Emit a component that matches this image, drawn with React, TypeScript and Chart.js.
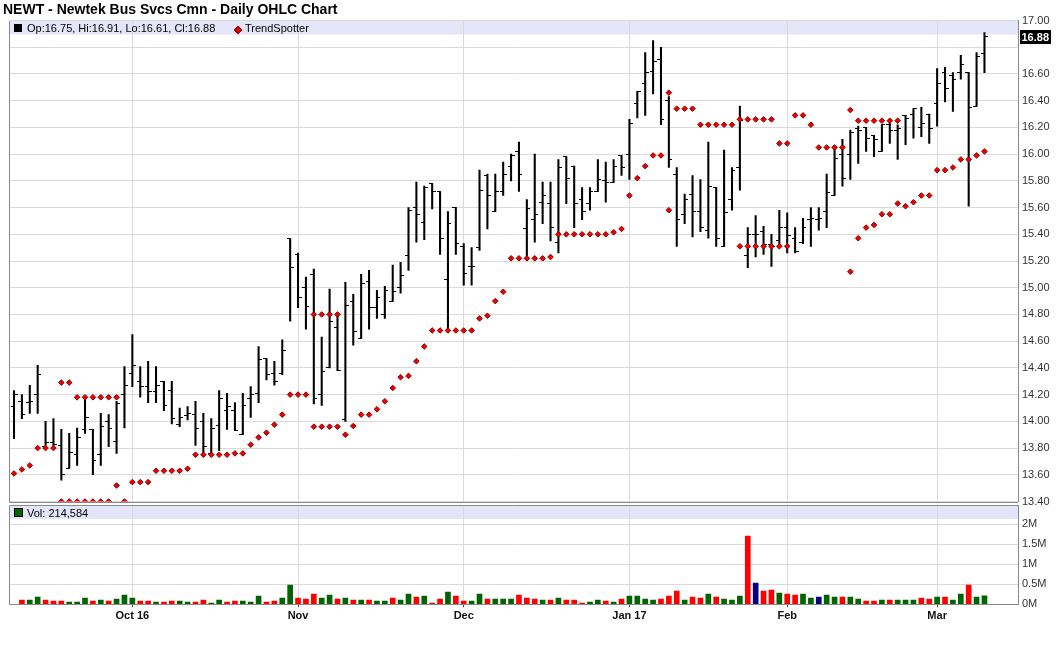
import { useEffect, useRef } from "react";
import { Chart, registerables } from "chart.js";

Chart.register(...registerables);

const FONT = '"Liberation Sans", Arial, Helvetica, sans-serif';

// x positions: trading-day index; month gridlines at first trading day of each month
const monthTickIndex = [15, 36, 57, 78, 98, 117];
const monthTickLabels = ["Oct 16", "Nov", "Dec", "Jan 17", "Feb", "Mar"];

const opens = [
  14.11, 14.15, 14.14, 14.20, 13.81, 13.84, 13.82, 13.65, 13.75, 13.94,
  13.94, 13.75, 14.00, 13.85, 14.20, 14.36, 14.30, 14.26, 14.22, 14.30,
  14.23, 13.98, 14.04, 14.05, 14.00, 13.76, 13.97, 14.08, 14.08, 13.90,
  14.17, 14.21, 14.47, 14.36, 14.36, 15.37, 15.25, 15.00, 15.10, 14.20,
  14.40, 14.70, 14.01, 14.90, 14.62, 15.05, 14.85, 14.80, 14.90, 15.00,
  15.24, 15.60, 15.49, 15.78, 15.72, 15.06, 15.60, 15.31, 15.16, 15.30,
  15.84, 15.57, 15.72, 15.91, 16.02, 15.44, 15.51, 15.64, 15.63, 15.34,
  15.98, 15.91, 15.66, 15.63, 15.72, 15.80, 15.79, 15.99, 16.00, 16.38,
  16.53, 16.62, 16.71, 16.40, 15.85, 15.55, 15.70, 15.57, 15.43, 15.75,
  15.31, 15.66, 15.90, 15.24, 15.40, 15.42, 15.32, 15.35, 15.45, 15.37,
  15.34, 15.51, 15.51, 15.57, 15.69, 16.00, 16.00, 16.19, 16.20, 16.14,
  16.02, 16.22, 16.18, 16.29, 16.30, 16.20, 16.30, 16.38, 16.61, 16.59,
  16.61, 16.61, 16.36, 16.75,
];

const highs = [
  14.23, 14.20, 14.27, 14.42, 14.00, 14.02, 13.94, 13.91, 13.95, 14.18,
  13.94, 14.06, 14.05, 14.15, 14.41, 14.65, 14.41, 14.45, 14.41, 14.30,
  14.30, 14.10, 14.11, 14.15, 14.06, 14.02, 14.23, 14.21, 14.14, 14.21,
  14.26, 14.56, 14.47, 14.45, 14.61, 15.37, 15.26, 15.08, 15.14, 14.63,
  14.99, 14.80, 15.04, 14.95, 15.10, 15.13, 14.98, 15.01, 15.17, 15.19,
  15.60, 15.79, 15.76, 15.78, 15.72, 15.57, 15.60, 15.33, 15.30, 15.88,
  15.85, 15.85, 15.94, 16.00, 16.09, 15.66, 16.00, 15.79, 15.79, 15.96,
  15.98, 15.91, 15.75, 15.75, 15.96, 15.94, 15.96, 15.99, 16.26, 16.47,
  16.76, 16.85, 16.80, 16.43, 15.90, 15.70, 15.84, 15.81, 16.09, 15.75,
  16.03, 15.90, 16.36, 15.45, 15.54, 15.46, 15.40, 15.58, 15.56, 15.45,
  15.52, 15.60, 15.60, 15.85, 16.04, 16.11, 16.18, 16.21, 16.20, 16.14,
  16.22, 16.26, 16.22, 16.29, 16.34, 16.35, 16.30, 16.64, 16.65, 16.61,
  16.74, 16.61, 16.76, 16.91,
];

const lows = [
  13.87, 14.02, 14.06, 14.06, 13.80, 13.80, 13.56, 13.65, 13.67, 13.91,
  13.60, 13.67, 13.81, 13.76, 13.95, 14.26, 14.18, 14.14, 14.14, 14.08,
  13.98, 13.96, 14.01, 13.82, 13.76, 13.75, 13.78, 13.94, 13.93, 13.90,
  14.03, 14.14, 14.31, 14.27, 14.35, 14.75, 14.85, 14.69, 14.13, 14.12,
  14.40, 14.38, 14.00, 14.57, 14.62, 14.69, 14.77, 14.77, 14.90, 14.96,
  15.13, 15.34, 15.36, 15.59, 15.25, 14.68, 15.25, 15.02, 15.02, 15.28,
  15.44, 15.57, 15.69, 15.80, 15.72, 15.24, 15.34, 15.48, 15.35, 15.26,
  15.63, 15.45, 15.51, 15.58, 15.72, 15.64, 15.79, 15.84, 15.81, 16.27,
  16.29, 16.45, 16.22, 15.90, 15.31, 15.48, 15.38, 15.42, 15.37, 15.31,
  15.31, 15.58, 15.73, 15.15, 15.23, 15.25, 15.16, 15.31, 15.26, 15.26,
  15.33, 15.31, 15.43, 15.45, 15.69, 15.76, 15.81, 15.93, 16.02, 15.98,
  16.02, 16.08, 15.96, 16.07, 16.12, 16.13, 16.08, 16.21, 16.39, 16.32,
  16.56, 15.61, 16.36, 16.61,
];

const closes = [
  14.20, 14.05, 14.15, 14.35, 13.84, 13.83, 13.60, 13.77, 13.88, 14.03,
  13.71, 13.96, 13.95, 14.13, 14.27, 14.42, 14.26, 14.22, 14.27, 14.12,
  14.02, 14.03, 14.06, 13.95, 13.81, 13.95, 14.17, 14.11, 13.93, 14.12,
  14.20, 14.46, 14.35, 14.30, 14.53, 15.15, 14.93, 14.86, 14.17, 14.37,
  14.75, 14.38, 14.87, 14.67, 15.03, 14.85, 14.93, 14.98, 14.97, 15.09,
  15.58, 15.55, 15.75, 15.72, 15.37, 15.48, 15.33, 15.11, 15.16, 15.73,
  15.69, 15.72, 15.85, 15.99, 15.85, 15.59, 15.55, 15.69, 15.45, 15.90,
  15.82, 15.63, 15.57, 15.72, 15.81, 15.79, 15.91, 15.90, 16.23, 16.47,
  16.61, 16.69, 16.26, 15.96, 15.51, 15.66, 15.57, 15.45, 15.76, 15.37,
  15.56, 15.88, 16.25, 15.40, 15.40, 15.32, 15.31, 15.45, 15.39, 15.27,
  15.45, 15.52, 15.52, 15.71, 15.97, 15.82, 16.16, 16.18, 16.12, 16.11,
  16.22, 16.18, 16.19, 16.27, 16.34, 16.23, 16.19, 16.53, 16.49, 16.56,
  16.67, 16.35, 16.73, 16.88,
];

const volumes = [
  0, 108000, 108000, 183000, 108000, 83000, 83000, 58000, 58000, 158000,
  83000, 108000, 83000, 133000, 233000, 158000, 83000, 83000, 58000, 58000,
  83000, 83000, 58000, 58000, 108000, 33000, 108000, 58000, 83000, 83000,
  58000, 208000, 58000, 83000, 158000, 483000, 158000, 133000, 258000, 158000,
  233000, 133000, 158000, 108000, 108000, 108000, 83000, 83000, 158000, 108000,
  258000, 183000, 208000, 33000, 133000, 308000, 208000, 83000, 83000, 258000,
  133000, 133000, 133000, 133000, 233000, 158000, 133000, 108000, 108000, 158000,
  108000, 108000, 33000, 58000, 108000, 83000, 58000, 133000, 208000, 208000,
  133000, 108000, 133000, 208000, 333000, 108000, 183000, 158000, 258000, 183000,
  133000, 108000, 208000, 1708000, 533000, 333000, 358000, 283000, 258000, 233000,
  258000, 158000, 183000, 233000, 183000, 183000, 183000, 133000, 83000, 83000,
  108000, 108000, 108000, 108000, 108000, 158000, 133000, 183000, 183000, 108000,
  258000, 483000, 183000, 214584,
];

const trendSpotter = [
  13.61, 13.64, 13.67, 13.80, 13.80, 13.80, 14.29, 14.29, 14.18, 14.18,
  14.18, 14.18, 14.18, 14.18, 13.40, 13.545, 13.545, 13.545, 13.63, 13.63,
  13.63, 13.63, 13.645, 13.75, 13.75, 13.75, 13.75, 13.75, 13.76, 13.76,
  13.825, 13.88, 13.915, 13.975, 14.05, 14.20, 14.20, 14.20, 14.80, 14.80,
  14.80, 14.80, 13.90, 13.965, 14.05, 14.05, 14.09, 14.15, 14.25, 14.33,
  14.34, 14.45, 14.56, 14.68, 14.68, 14.68, 14.68, 14.68, 14.68, 14.77,
  14.79, 14.90, 14.97, 15.22, 15.22, 15.22, 15.22, 15.22, 15.23, 15.40,
  15.40, 15.40, 15.40, 15.40, 15.40, 15.40, 15.415, 15.44, 15.69, 15.82,
  15.91, 15.99, 15.99, 16.46, 16.34, 16.34, 16.34, 16.22, 16.22, 16.22,
  16.22, 16.22, 16.26, 16.26, 16.26, 16.26, 16.26, 16.08, 16.08, 16.29,
  16.29, 16.22, 16.05, 16.05, 16.05, 16.05, 16.33, 16.25, 16.25, 16.25,
  16.25, 16.25, 16.25, 15.61, 15.64, 15.69, 15.69, 15.88, 15.88, 15.90,
  15.96, 15.96, 15.99, 16.02,
];

// days where a second TrendSpotter dot is shown
const trendSpotter2Index = [6, 7, 8, 9, 10, 11, 12, 13, 38, 39, 40, 41, 83, 92, 93, 94, 95, 96, 97, 98, 106, 107, 108, 109, 110, 111, 112];
const trendSpotter2Value = [13.40, 13.40, 13.40, 13.40, 13.40, 13.40, 13.40, 13.52, 13.96, 13.96, 13.96, 13.96, 15.58, 15.31, 15.31, 15.31, 15.31, 15.31, 15.31, 15.31, 15.12, 15.37, 15.45, 15.47, 15.55, 15.55, 15.63];

const priceMin = 13.4;
const priceMax = 17.0;
const priceStep = 0.2;
const volumeTicks = [0, 500000, 1000000, 1500000, 2000000];
const volumeMax = 2470000;

const X_MIN = -0.634;
const X_MAX = 127.25;

const UP = "#006400";
const DOWN = "#ff0000";
const FLAT = "#000080";
const BAND = "#e5e5fa";
const GRID = "#dadada";
const FRAME = "#8a8a8a";

function tickImage(side: "left" | "right"): HTMLCanvasElement {
  const c = document.createElement("canvas");
  c.width = 7;
  c.height = 1;
  const g = c.getContext("2d")!;
  g.fillStyle = "#000";
  if (side === "left") g.fillRect(0, 0, 4, 1);
  else g.fillRect(3, 0, 4, 1);
  return c;
}

function monthTicks(scale: any) {
  scale.ticks = monthTickIndex.map((v) => ({ value: v }));
}

function monthLabel(value: any) {
  const k = monthTickIndex.indexOf(Number(value));
  return k >= 0 ? monthTickLabels[k] : "";
}

function fixYWidth(s: any) {
  s.width = 42;
  s.paddingTop = 0;
  s.paddingBottom = 0;
}

const panelPlugin = {
  id: "panel",
  beforeDraw(chart: any, _args: any, opts: any) {
    const { ctx, chartArea } = chart;
    ctx.save();
    ctx.fillStyle = BAND;
    ctx.fillRect(chartArea.left, chartArea.top, chartArea.right - chartArea.left, opts.bandHeight || 14);
    ctx.restore();
  },
  afterDraw(chart: any, _args: any, opts: any) {
    const { ctx, chartArea } = chart;
    ctx.save();
    ctx.strokeStyle = FRAME;
    ctx.lineWidth = 1;
    ctx.beginPath();
    const l = Math.round(chartArea.left) + 0.5;
    const b = Math.round(chartArea.bottom) + 0.5;
    ctx.moveTo(l, Math.round(chartArea.top));
    ctx.lineTo(l, b);
    ctx.lineTo(chartArea.right, b);
    if (opts.topBorder) {
      const t = Math.round(chartArea.top) - 0.5;
      ctx.moveTo(l, t);
      ctx.lineTo(chartArea.right, t);
    }
    ctx.stroke();
    if (opts.lastPrice !== undefined) {
      const y = chart.scales.y.getPixelForValue(opts.lastPrice);
      const x = chartArea.right + 2;
      ctx.fillStyle = "#000";
      ctx.fillRect(x, Math.round(y) - 7, 31, 14);
      ctx.fillStyle = "#fff";
      ctx.font = `bold 11px ${FONT}`;
      ctx.textBaseline = "middle";
      ctx.textAlign = "left";
      ctx.fillText(opts.lastPrice.toFixed(2), x + 1.5, Math.round(y) + 0.5);
    }
    ctx.restore();
  },
};

export default function App() {
  const priceRef = useRef<HTMLCanvasElement>(null);
  const volRef = useRef<HTMLCanvasElement>(null);

  useEffect(() => {
    Chart.defaults.font.family = FONT;
    const last = closes.length - 1;
    const leftImg = tickImage("left");
    const rightImg = tickImage("right");

    const dotStyle = {
      showLine: false,
      pointStyle: "rectRot",
      pointRadius: 2.8,
      pointBackgroundColor: "#ee0000",
      pointBorderColor: "#8b0000",
      pointBorderWidth: 1,
      clip: 0,
      order: 0,
    };

    const priceChart = new Chart(priceRef.current!, {
      type: "bar",
      data: {
        datasets: [
          {
            type: "line",
            label: "TrendSpotter",
            data: trendSpotter.map((v, i) => ({ x: i, y: v })),
            ...dotStyle,
          } as any,
          {
            type: "line",
            label: "TrendSpotter 2",
            data: trendSpotter2Index.map((x, k) => ({ x, y: trendSpotter2Value[k] })),
            ...dotStyle,
          } as any,
          {
            type: "line",
            label: "Open",
            data: opens.map((v, i) => ({ x: i, y: v })),
            showLine: false,
            pointStyle: leftImg,
            pointRadius: 3,
            order: 1,
          } as any,
          {
            type: "line",
            label: "Close",
            data: closes.map((v, i) => ({ x: i, y: v })),
            showLine: false,
            pointStyle: rightImg,
            pointRadius: 3,
            order: 1,
          } as any,
          {
            type: "bar",
            label: "High-Low",
            data: highs.map((h, i) => ({ x: i, y: [lows[i], h] })),
            backgroundColor: "#000",
            barThickness: 1.4,
            order: 2,
          } as any,
        ],
      },
      options: {
        responsive: false,
        animation: false,
        events: [],
        layout: { padding: { left: 9, top: 20.5, right: 0, bottom: 0 } },
        plugins: {
          legend: { display: false },
          tooltip: { enabled: false },
          title: { display: false },
          panel: { bandHeight: 14, lastPrice: closes[last] },
        } as any,
        scales: {
          x: {
            type: "linear",
            min: X_MIN,
            max: X_MAX,
            offset: false,
            afterBuildTicks: monthTicks,
            afterFit: (s: any) => {
              s.height = 11.5;
            },
            ticks: { display: false },
            grid: { color: GRID, drawTicks: false, offset: false },
            border: { display: false },
          },
          y: {
            type: "linear",
            position: "right",
            min: priceMin,
            max: priceMax,
            afterFit: fixYWidth,
            ticks: {
              stepSize: priceStep,
              // the label next to the last-price box is left out, as in the original
              callback: (v: any) => (Math.abs(Number(v) - closes[last]) < 0.12 ? "" : Number(v).toFixed(2)),
              font: { size: 11, family: FONT },
              color: "#333",
              padding: 4,
            },
            grid: { color: GRID, drawTicks: false },
            border: { color: FRAME },
          },
        } as any,
      },
      plugins: [panelPlugin],
    });

    const volColors = closes.map((c, i) =>
      i === 0 ? UP : c > closes[i - 1] ? UP : c < closes[i - 1] ? DOWN : FLAT
    );

    const volChart = new Chart(volRef.current!, {
      type: "bar",
      data: {
        datasets: [
          {
            label: "Vol",
            data: volumes.map((v, i) => ({ x: i, y: v })),
            backgroundColor: volColors,
            barThickness: 5,
          } as any,
        ],
      },
      options: {
        responsive: false,
        animation: false,
        events: [],
        layout: { padding: { left: 9, top: 2.5, right: 0, bottom: 0 } },
        plugins: {
          legend: { display: false },
          tooltip: { enabled: false },
          title: { display: false },
          panel: { bandHeight: 13.5, topBorder: true },
        } as any,
        scales: {
          x: {
            type: "linear",
            min: X_MIN,
            max: X_MAX,
            offset: false,
            afterBuildTicks: monthTicks,
            afterFit: (s: any) => {
              s.height = 40.7;
            },
            ticks: {
              callback: monthLabel,
              autoSkip: false,
              maxRotation: 0,
              font: { size: 11, weight: "bold", family: FONT },
              color: "#111",
              padding: 2,
            },
            grid: { color: GRID, drawTicks: true, tickLength: 3, tickColor: "#555", offset: false },
            border: { display: false },
          },
          y: {
            type: "linear",
            position: "right",
            min: 0,
            max: volumeMax,
            afterBuildTicks: (s: any) => {
              s.ticks = volumeTicks.map((v) => ({ value: v }));
            },
            afterFit: fixYWidth,
            ticks: {
              callback: (v: any) => `${Number(v) / 1000000}M`,
              font: { size: 11, family: FONT },
              color: "#333",
              padding: 4,
            },
            grid: { color: GRID, drawTicks: false },
            border: { color: FRAME },
          },
        } as any,
      },
      plugins: [panelPlugin],
    });

    return () => {
      priceChart.destroy();
      volChart.destroy();
    };
  }, []);

  const last = closes.length - 1;
  const ohlcText = `Op:${opens[last].toFixed(2)}, Hi:${highs[last].toFixed(2)}, Lo:${lows[last].toFixed(2)}, Cl:${closes[last].toFixed(2)}`;
  const volText = `Vol: ${volumes[last].toLocaleString("en-US")}`;

  const textStyle: any = {
    position: "absolute",
    fontFamily: FONT,
    fontSize: 11,
    lineHeight: "14px",
    color: "#000",
    whiteSpace: "nowrap",
  };

  return (
    <div
      style={{
        position: "absolute",
        left: 0,
        top: 0,
        width: 1060,
        height: 645,
        background: "#fff",
        overflow: "hidden",
        fontFamily: FONT,
      }}
    >
      <canvas
        ref={priceRef}
        width={1060}
        height={513}
        style={{ position: "absolute", left: 0, top: 0, width: 1060, height: 513 }}
      />
      <canvas
        ref={volRef}
        width={1060}
        height={142}
        style={{ position: "absolute", left: 0, top: 503, width: 1060, height: 142 }}
      />
      <div
        style={{
          position: "absolute",
          left: 3,
          top: 0,
          fontFamily: FONT,
          fontWeight: "bold",
          fontSize: 14,
          lineHeight: "18px",
          color: "#000",
          whiteSpace: "nowrap",
        }}
      >
        NEWT - Newtek Bus Svcs Cmn - Daily OHLC Chart
      </div>
      <div style={{ position: "absolute", left: 14, top: 24, width: 8, height: 8, background: "#000" }} />
      <div style={{ ...textStyle, left: 27, top: 21 }}>{ohlcText}</div>
      <div
        style={{
          position: "absolute",
          left: 235,
          top: 26.5,
          width: 4,
          height: 4,
          background: "#ee0000",
          border: "0.5px solid #8b0000",
          transform: "rotate(45deg)",
        }}
      />
      <div style={{ ...textStyle, left: 245, top: 21 }}>TrendSpotter</div>
      <div
        style={{
          position: "absolute",
          left: 14,
          top: 508,
          width: 7,
          height: 7,
          background: UP,
          border: "1px solid #000",
        }}
      />
      <div style={{ ...textStyle, left: 27, top: 505.5 }}>{volText}</div>
    </div>
  );
}
